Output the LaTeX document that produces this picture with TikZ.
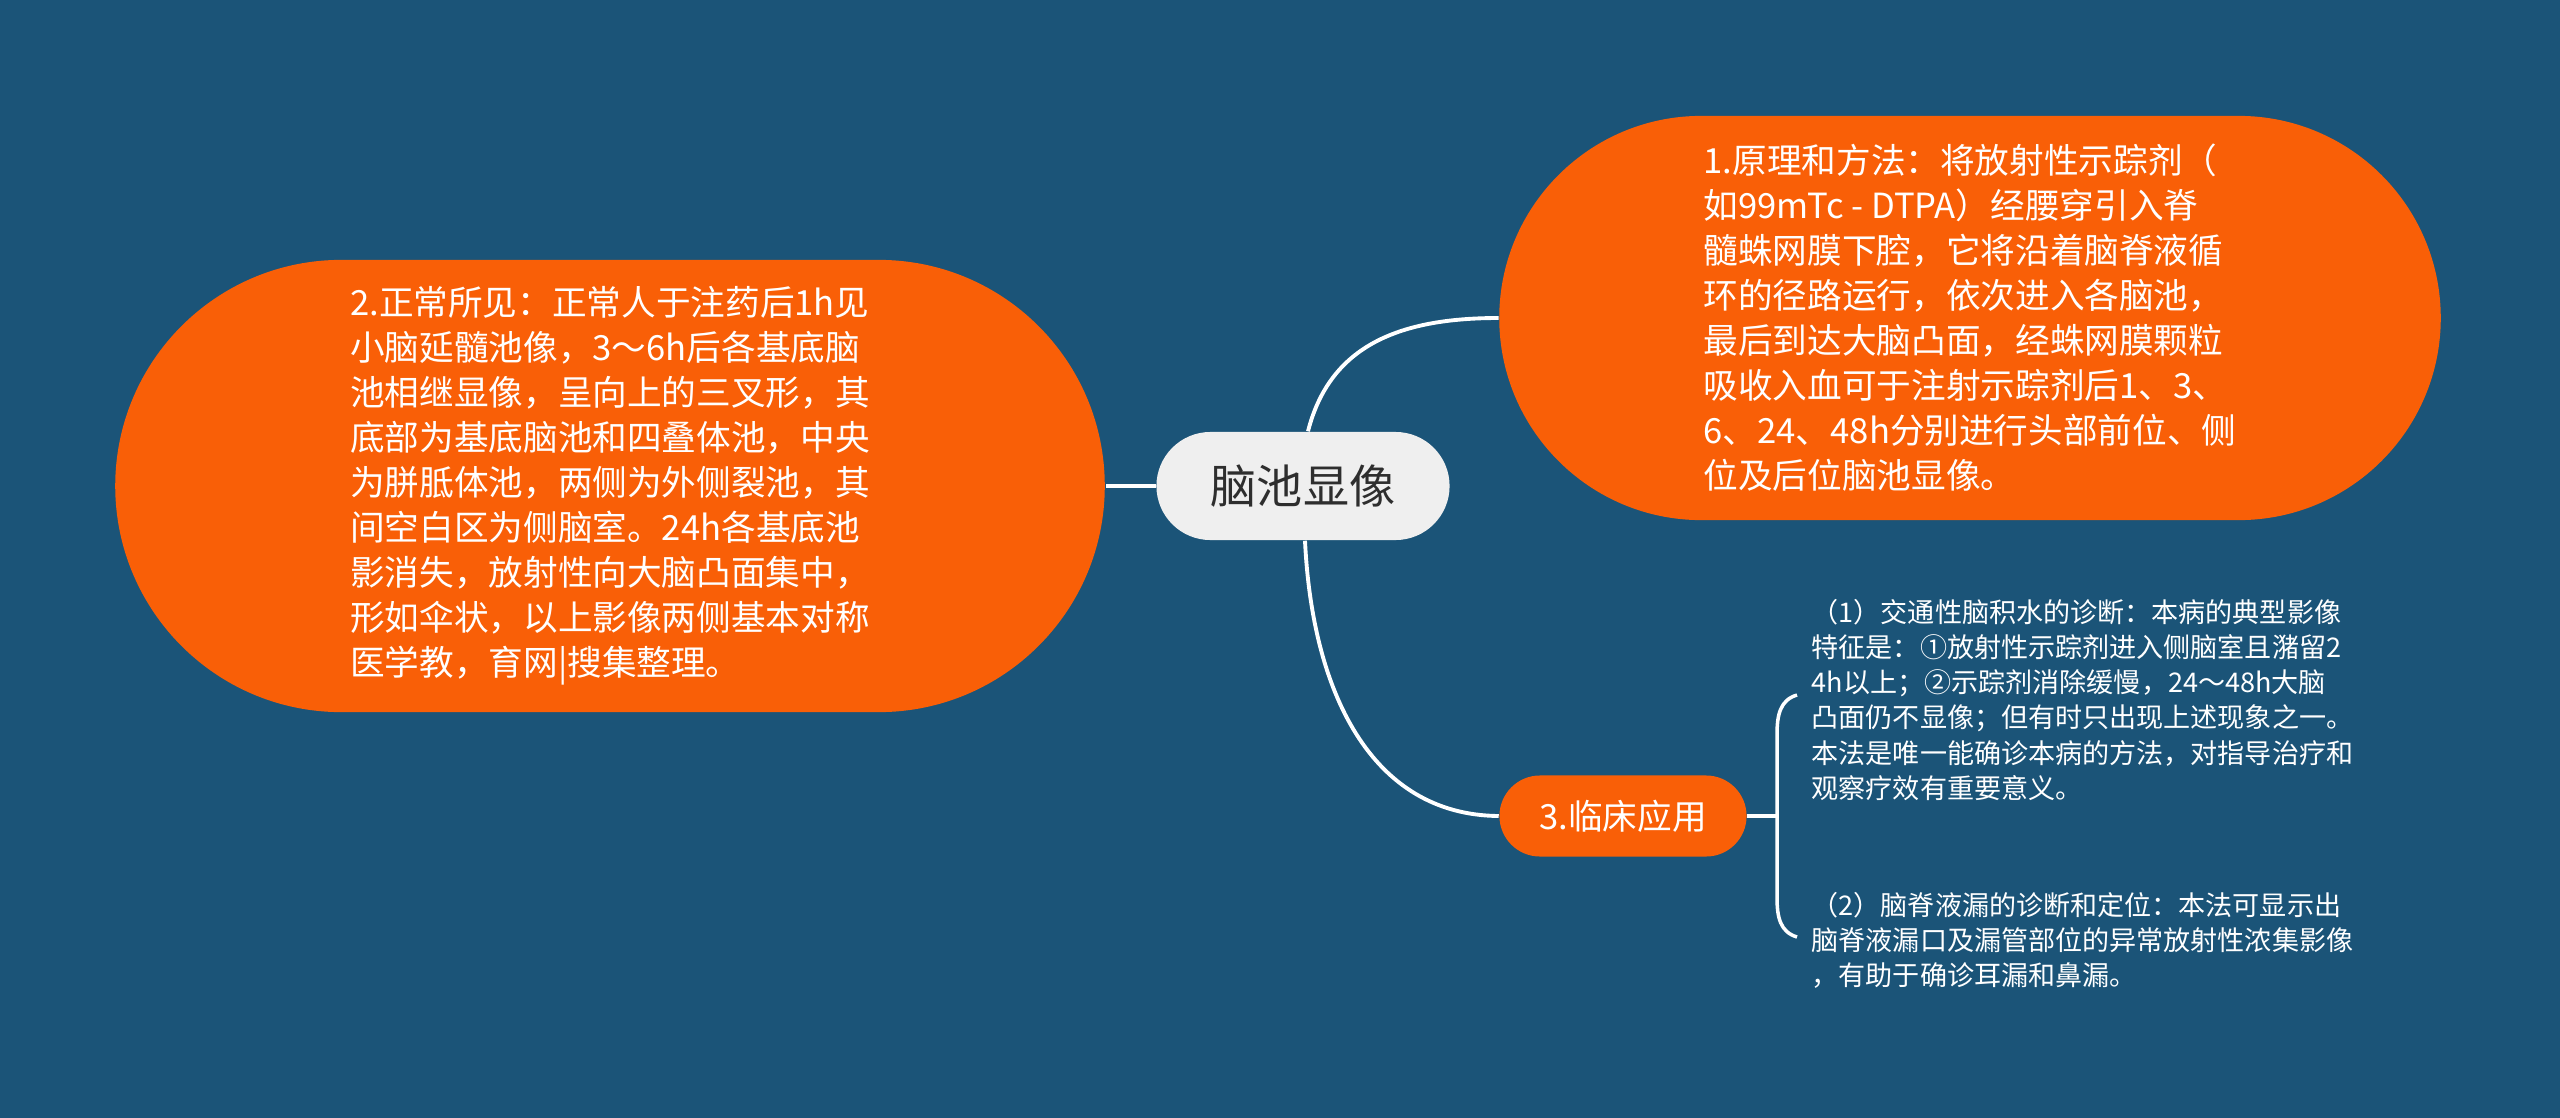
\documentclass[tikz,border=0pt]{standalone}
\usepackage{fontspec}
\setmainfont{Noto Sans CJK SC}
\usepackage{tikz}
\usetikzlibrary{calc}
\definecolor{bgblue}{RGB}{27,84,120}
\definecolor{branch}{RGB}{249,95,7}
\definecolor{topicgray}{RGB}{239,239,239}
\definecolor{topictext}{RGB}{46,46,46}

\begin{document}
\begin{tikzpicture}[
  x=0.01cm, y=-0.01cm,
  every node/.style={inner sep=0pt},
  topicbox/.style={fill=topicgray, text=topictext, rounded corners=0.54cm,
               minimum width=2.93cm, minimum height=1.08cm,
               font=\fontsize{13.1}{16}\selectfont},
  mainbox/.style={fill=branch, text=white, align=left,
               font=\fontsize{9.85}{12.8}\selectfont},
  leaftext/.style={text=white, align=left, anchor=west,
               font=\fontsize{7.7}{9.96}\selectfont},
  link/.style={draw=white, line width=1.1pt}
]
\fill[bgblue] (0,0) rectangle (2560,1118);
\useasboundingbox (0,0) rectangle (2560,1118);

\node[topicbox] (topic) at (1303,486) {脑池显像};

\node[mainbox, minimum width=9.41cm, minimum height=4.04cm,
      rounded corners=2.02cm] (principle) at (1970,318)
  {1.原理和方法：将放射性示踪剂（\\
   如99mTc - DTPA）经腰穿引入脊\\
   髓蛛网膜下腔，它将沿着脑脊液循\\
   环的径路运行，依次进入各脑池，\\
   最后到达大脑凸面，经蛛网膜颗粒\\
   吸收入血可于注射示踪剂后1、3、\\
   6、24、48h分别进行头部前位、侧\\
   位及后位脑池显像。};
\node[mainbox, minimum width=9.89cm, minimum height=4.52cm,
      rounded corners=2.26cm] (normal) at (610,486)
  {2.正常所见：正常人于注药后1h见\\
   小脑延髓池像，3～6h后各基底脑\\
   池相继显像，呈向上的三叉形，其\\
   底部为基底脑池和四叠体池，中央\\
   为胼胝体池，两侧为外侧裂池，其\\
   间空白区为侧脑室。24h各基底池\\
   影消失，放射性向大脑凸面集中，\\
   形如伞状，以上影像两侧基本对称\\
   医学教，育网|搜集整理。};
\node[mainbox, align=center, minimum width=2.47cm, minimum height=0.81cm,
      rounded corners=0.405cm] (clinic) at (1623,816) {3.临床应用};

\node[leaftext] (hydro) at (1811,700)
  {（1）交通性脑积水的诊断：本病的典型影像\\
   特征是：①放射性示踪剂进入侧脑室且潴留2\\
   4h以上；②示踪剂消除缓慢，24～48h大脑\\
   凸面仍不显像；但有时只出现上述现象之一。\\
   本法是唯一能确诊本病的方法，对指导治疗和\\
   观察疗效有重要意义。};
\node[leaftext] (leak) at (1811,940)
  {（2）脑脊液漏的诊断和定位：本法可显示出\\
   脑脊液漏口及漏管部位的异常放射性浓集影像\\
   ，有助于确诊耳漏和鼻漏。};

\coordinate (fork) at (1777,816);
\coordinate (hydroend) at (1797,695);
\coordinate (leakend) at (1797,937);

\draw[link] (topic.west) -- (normal.east);
\draw[link] ([xshift=0.05cm]topic.north) .. controls (1330,345) and (1400,318) .. (principle.west);
\draw[link] ([xshift=0.02cm]topic.south) .. controls (1312,690) and (1370,815) .. (clinic.west);
\draw[link, line width=1pt] (clinic.east) -- (fork);
\draw[link, line width=1pt] (hydroend) .. controls (1780,700) and (1777,715) .. (1777,735)
  -- (1777,897) .. controls (1777,917) and (1780,932) .. (leakend);

\end{tikzpicture}
\end{document}
